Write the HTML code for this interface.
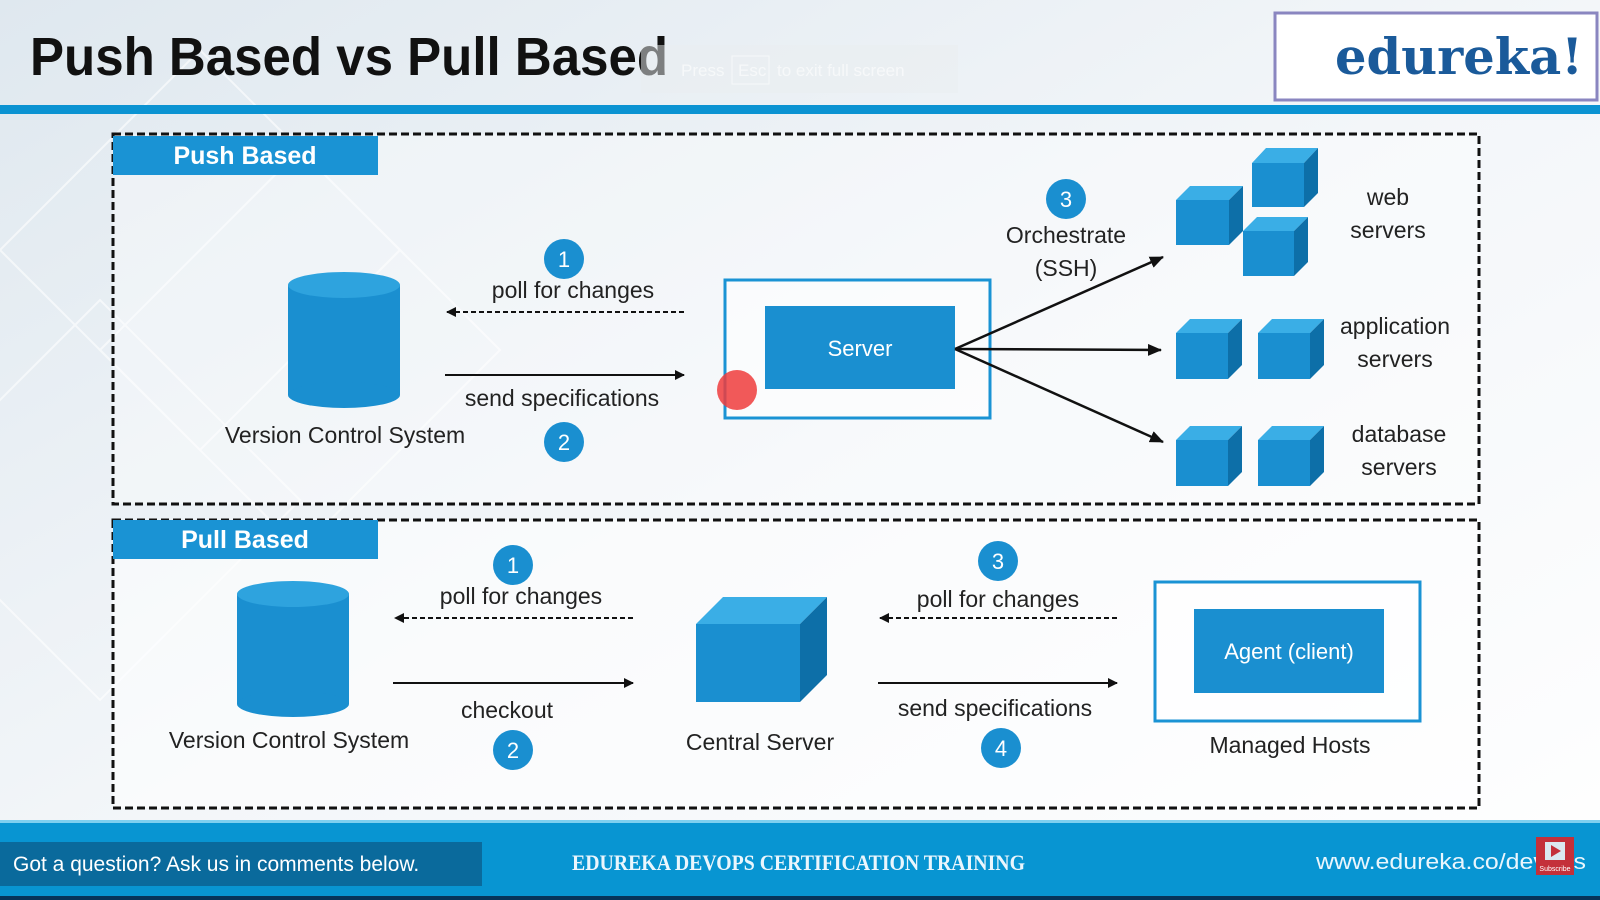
<!DOCTYPE html>
<html><head><meta charset="utf-8"><style>
html,body{margin:0;padding:0;width:1600px;height:900px;overflow:hidden;background:#eef3f7}
svg{display:block}
text{font-family:"Liberation Sans",sans-serif}
</style></head><body>
<svg width="1600" height="900" viewBox="0 0 1600 900" xmlns="http://www.w3.org/2000/svg">
<defs>
<linearGradient id="bg" x1="0" y1="0" x2="1" y2="1">
<stop offset="0" stop-color="#dfe8ef"/><stop offset="0.5" stop-color="#f3f6f9"/><stop offset="1" stop-color="#ffffff"/>
</linearGradient>
<marker id="ah" markerWidth="10" markerHeight="10" refX="9" refY="5" orient="auto" markerUnits="userSpaceOnUse"><path d="M0,0 L10,5 L0,10 z" fill="#111"/></marker>
<marker id="ah2" markerWidth="14" markerHeight="12" refX="13" refY="6" orient="auto" markerUnits="userSpaceOnUse"><path d="M0,0 L14,6 L0,12 z" fill="#111"/></marker>
</defs>
<rect width="1600" height="900" fill="url(#bg)"/>
<g stroke="#fff" stroke-width="2" fill="none" opacity="0.6">
<path d="M0,250 L200,50 L400,250 L200,450 Z"/><path d="M100,350 L300,150 L500,350 L300,550 Z"/><path d="M-100,500 L100,300 L300,500 L100,700 Z"/>
</g>
<text x="30" y="75" font-size="54" font-weight="bold" fill="#111" textLength="638" lengthAdjust="spacingAndGlyphs">Push Based vs Pull Based</text>
<rect x="641" y="45" width="317" height="48" fill="#e9edf0" opacity="0.5"/>
<g opacity="0.6">
<text x="681" y="76" font-size="17" fill="#fff">Press</text>
<rect x="732" y="56" width="37" height="28" fill="none" stroke="#fff" stroke-width="1"/>
<text x="738" y="76" font-size="17" fill="#fff">Esc</text>
<text x="777" y="76" font-size="17" fill="#fff">to exit full screen</text>
</g>
<rect x="1275" y="13" width="322" height="87" fill="#fff" stroke="#8a86c0" stroke-width="3"/>
<text x="1583" y="74" font-size="50" font-weight="bold" fill="#1a5a9a" text-anchor="end" textLength="248" lengthAdjust="spacingAndGlyphs" style="font-family:'DejaVu Serif','Liberation Serif',serif">edureka!</text>
<rect x="0" y="105" width="1600" height="9" fill="#0b93d2"/>
<rect x="113" y="134" width="1366" height="370" fill="#fff" fill-opacity="0.35" stroke="#111" stroke-width="3" stroke-dasharray="8,4"/>
<rect x="113" y="136" width="265" height="39" fill="#1a93d4"/>
<text x="245" y="164" font-size="25" font-weight="bold" fill="#fff" text-anchor="middle">Push Based</text>
<g fill="#1a8fd0">
<rect x="288" y="285" width="112" height="110"/>
<ellipse cx="344" cy="395" rx="56" ry="13"/>
<ellipse cx="344" cy="285" rx="56" ry="13" fill="#2ea3de"/>
</g>
<g font-size="23" fill="#222" text-anchor="middle">
<text x="345" y="443">Version Control System</text>
<circle cx="564" cy="259" r="20" fill="#1a8fd0"/><text x="564" y="267" fill="#fff" font-size="22">1</text>
<text x="573" y="298">poll for changes</text>
<text x="562" y="406">send specifications</text>
<circle cx="564" cy="442" r="20" fill="#1a8fd0"/><text x="564" y="450" fill="#fff" font-size="22">2</text>
<circle cx="1066" cy="199" r="20" fill="#1a8fd0"/><text x="1066" y="207" fill="#fff" font-size="22">3</text>
<text x="1066" y="243">Orchestrate</text>
<text x="1066" y="276">(SSH)</text>
<text x="1388" y="205">web</text><text x="1388" y="238">servers</text>
<text x="1395" y="334">application</text><text x="1395" y="367">servers</text>
<text x="1399" y="442">database</text><text x="1399" y="475">servers</text>
</g>
<line x1="684" y1="312" x2="447" y2="312" stroke="#111" stroke-width="2" stroke-dasharray="5,3" marker-end="url(#ah)"/>
<line x1="445" y1="375" x2="684" y2="375" stroke="#111" stroke-width="2" marker-end="url(#ah)"/>
<rect x="725" y="280" width="265" height="138" fill="#fff" fill-opacity="0.5" stroke="#1a93d4" stroke-width="3"/>
<rect x="765" y="306" width="190" height="83" fill="#1a8fd0"/>
<text x="860" y="356" font-size="22" fill="#fff" text-anchor="middle">Server</text>
<circle cx="737" cy="390" r="20" fill="#ee3c3c" opacity="0.85"/>
<g stroke="#111" stroke-width="2.5">
<line x1="955" y1="349" x2="1163" y2="257" marker-end="url(#ah2)"/>
<line x1="955" y1="349" x2="1161" y2="350" marker-end="url(#ah2)"/>
<line x1="955" y1="349" x2="1163" y2="442" marker-end="url(#ah2)"/>
</g>
<g>
<polygon points="1176,200 1190,186 1243,186 1229,200" fill="#3aaee6"/><rect x="1176" y="200" width="53" height="45" fill="#1a8fd0"/><polygon points="1229,200 1243,186 1243,231 1229,245" fill="#0d6fa8"/>
<polygon points="1252,163 1266,148 1318,148 1304,163" fill="#3aaee6"/><rect x="1252" y="163" width="52" height="44" fill="#1a8fd0"/><polygon points="1304,163 1318,148 1318,193 1304,207" fill="#0d6fa8"/>
<polygon points="1243,231 1257,217 1308,217 1294,231" fill="#3aaee6"/><rect x="1243" y="231" width="51" height="45" fill="#1a8fd0"/><polygon points="1294,231 1308,217 1308,262 1294,276" fill="#0d6fa8"/>
<polygon points="1176,333 1190,319 1242,319 1228,333" fill="#3aaee6"/><rect x="1176" y="333" width="52" height="46" fill="#1a8fd0"/><polygon points="1228,333 1242,319 1242,365 1228,379" fill="#0d6fa8"/>
<polygon points="1258,333 1272,319 1324,319 1310,333" fill="#3aaee6"/><rect x="1258" y="333" width="52" height="46" fill="#1a8fd0"/><polygon points="1310,333 1324,319 1324,365 1310,379" fill="#0d6fa8"/>
<polygon points="1176,440 1190,426 1242,426 1228,440" fill="#3aaee6"/><rect x="1176" y="440" width="52" height="46" fill="#1a8fd0"/><polygon points="1228,440 1242,426 1242,472 1228,486" fill="#0d6fa8"/>
<polygon points="1258,440 1272,426 1324,426 1310,440" fill="#3aaee6"/><rect x="1258" y="440" width="52" height="46" fill="#1a8fd0"/><polygon points="1310,440 1324,426 1324,472 1310,486" fill="#0d6fa8"/>
</g>
<rect x="113" y="520" width="1366" height="288" fill="#fff" fill-opacity="0.55" stroke="#111" stroke-width="3" stroke-dasharray="8,4"/>
<rect x="113" y="520" width="265" height="39" fill="#1a93d4"/>
<text x="245" y="548" font-size="25" font-weight="bold" fill="#fff" text-anchor="middle">Pull Based</text>
<g fill="#1a8fd0">
<rect x="237" y="594" width="112" height="110"/>
<ellipse cx="293" cy="704" rx="56" ry="13"/>
<ellipse cx="293" cy="594" rx="56" ry="13" fill="#2ea3de"/>
</g>
<g font-size="23" fill="#222" text-anchor="middle">
<text x="289" y="748">Version Control System</text>
<circle cx="513" cy="565" r="20" fill="#1a8fd0"/><text x="513" y="573" fill="#fff" font-size="22">1</text>
<text x="521" y="604">poll for changes</text>
<text x="507" y="718">checkout</text>
<circle cx="513" cy="750" r="20" fill="#1a8fd0"/><text x="513" y="758" fill="#fff" font-size="22">2</text>
<text x="760" y="750">Central Server</text>
<circle cx="998" cy="561" r="20" fill="#1a8fd0"/><text x="998" y="569" fill="#fff" font-size="22">3</text>
<text x="998" y="607">poll for changes</text>
<text x="995" y="716">send specifications</text>
<circle cx="1001" cy="748" r="20" fill="#1a8fd0"/><text x="1001" y="756" fill="#fff" font-size="22">4</text>
<text x="1290" y="753">Managed Hosts</text>
</g>
<g stroke="#111" stroke-width="2">
<line x1="633" y1="618" x2="395" y2="618" stroke-dasharray="5,3" marker-end="url(#ah)"/>
<line x1="393" y1="683" x2="633" y2="683" marker-end="url(#ah)"/>
<line x1="1117" y1="618" x2="880" y2="618" stroke-dasharray="5,3" marker-end="url(#ah)"/>
<line x1="878" y1="683" x2="1117" y2="683" marker-end="url(#ah)"/>
</g>
<polygon points="696,624 723,597 827,597 800,624" fill="#3aaee6"/><rect x="696" y="624" width="104" height="78" fill="#1a8fd0"/><polygon points="800,624 827,597 827,675 800,702" fill="#0d6fa8"/>
<rect x="1155" y="582" width="265" height="139" fill="#fff" fill-opacity="0.5" stroke="#1a93d4" stroke-width="3"/>
<rect x="1194" y="609" width="190" height="84" fill="#1a8fd0"/>
<text x="1289" y="659" font-size="22" fill="#fff" text-anchor="middle">Agent (client)</text>
<rect x="0" y="820" width="1600" height="80" fill="#0895d2"/>
<rect x="0" y="820" width="1600" height="3" fill="#7fd0f0"/>
<rect x="0" y="842" width="482" height="44" fill="#0a6a9c"/>
<text x="13" y="871" font-size="21" fill="#fff">Got a question? Ask us in comments below.</text>
<text x="572" y="870" font-size="22" fill="#eaf6fd" font-weight="bold" textLength="453" lengthAdjust="spacingAndGlyphs" style="font-family:'Liberation Serif',serif">EDUREKA DEVOPS CERTIFICATION TRAINING</text>
<text x="1316" y="869" font-size="22" fill="#eaf6fd" textLength="270" lengthAdjust="spacingAndGlyphs">www.edureka.co/devops</text>
<rect x="1536" y="837" width="38" height="38" fill="#c4303a"/>
<rect x="1545" y="842" width="20" height="18" fill="#dbe8f0"/>
<polygon points="1551,845 1561,851 1551,857" fill="#c4303a"/>
<text x="1555" y="871" font-size="7" fill="#fff" text-anchor="middle">Subscribe</text>
<rect x="0" y="896" width="1600" height="4" fill="#06345a"/>
</svg>
</body></html>
